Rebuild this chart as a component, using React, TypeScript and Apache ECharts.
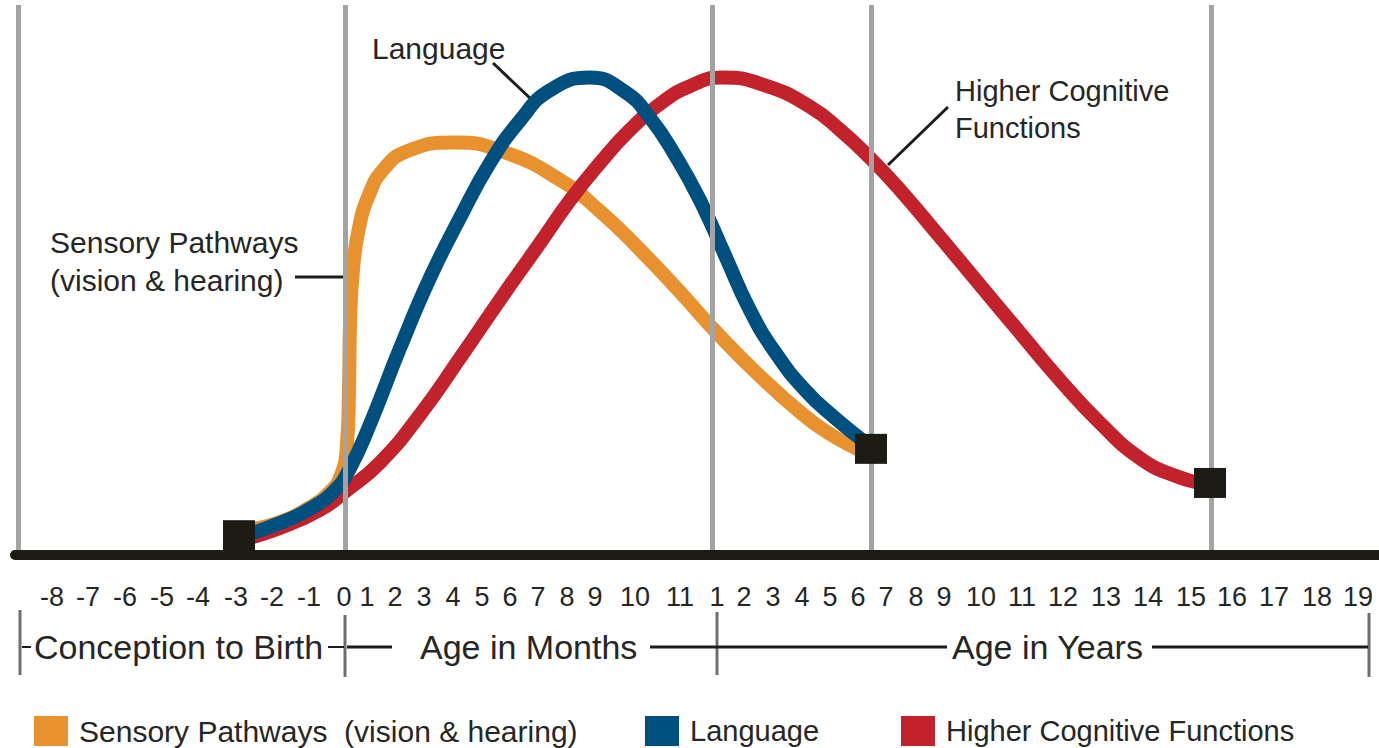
import React, { useEffect, useRef } from "react";
import * as echarts from "echarts";

// ---- axis ticks (position along the developmental time line, label shown) ----
const tickLabels = [
  "-8", "-7", "-6", "-5", "-4", "-3", "-2", "-1", "0",
  "1", "2", "3", "4", "5", "6", "7", "8", "9", "10", "11",
  "1", "2", "3", "4", "5", "6", "7", "8", "9", "10",
  "11", "12", "13", "14", "15", "16", "17", "18", "19",
];
const tickPos = [
  37, 73, 110, 147, 183, 221, 257, 294, 329,
  352, 380, 409, 438, 467, 495, 523, 552, 580, 620, 665,
  702, 729, 758, 787, 815, 843, 871, 901, 929, 966,
  1007, 1048, 1091, 1133, 1176, 1217, 1259, 1302, 1343,
];
// vertical reference lines (edge, birth, 1 year, ~6.5 years, ~15.5 years)
const guideLines = [3, 330, 697, 856, 1196];

// ---- series: [position, level] ----
const sensory = [
  [230, 4.4], [265, 6.0], [295, 8.7], [315, 11.5], [326, 14.5], [332, 20.0],
  [334, 30.0], [335, 42.0], [338, 52.0], [344, 59.5], [354, 65.5],
  [368, 70.0], [392, 73.4], [440, 75.0], [490, 73.2],
  [545, 68.2], [585, 62.5], [625, 55.5], [665, 47.8],
  [705, 39.8], [745, 32.5], [785, 26.0], [815, 22.0], [840, 19.5], [853, 18.5],
];
const language = [
  [230, 3.6], [265, 5.8], [295, 8.4], [320, 11.8], [335, 15.8], [355, 23.8],
  [385, 37.6], [415, 50.4], [445, 61.3], [475, 71.3], [505, 79.0],
  [535, 84.5], [575, 86.8], [610, 84.2], [635, 79.5], [660, 72.7],
  [685, 64.5], [710, 54.5], [735, 44.5], [760, 36.9], [790, 30.0],
  [820, 24.9], [850, 20.5],
];
const higher = [
  [230, 2.9], [265, 4.9], [305, 8.2], [330, 11.5], [365, 16.8], [405, 25.5],
  [445, 35.8], [485, 46.4], [525, 56.7], [555, 64.5], [585, 71.3],
  [615, 77.3], [645, 82.0], [672, 85.0], [707, 86.8], [750, 85.4],
  [795, 81.5], [825, 77.3], [855, 72.2], [885, 66.4],
  [925, 57.8], [965, 49.1], [1005, 40.4], [1045, 31.8], [1085, 24.0],
  [1125, 17.6], [1160, 14.4], [1190, 12.9],
];
const endpoints = [[224, 3.6], [856, 19.3], [1195, 13.1]];

const seriesNames = [
  "Sensory Pathways (vision & hearing)",
  "Language",
  "Higher Cognitive Functions",
];
const colors = ["#E8912F", "#00507F", "#C1222B"];

const FONT = '"Liberation Sans", Arial, Helvetica, sans-serif';
const INK = "#262626";

function txt(text: string, x: number, y: number, size: number) {
  return {
    type: "text",
    x,
    y,
    silent: true,
    style: {
      text,
      font: `${size}px ${FONT}`,
      fill: INK,
      verticalAlign: "middle",
      align: "left",
    },
  };
}
function ln(x1: number, y1: number, x2: number, y2: number, w: number, c = "#1c1c1c") {
  return {
    type: "line",
    silent: true,
    shape: { x1, y1, x2, y2 },
    style: { stroke: c, lineWidth: w },
  };
}

export default function App() {
  const ref = useRef<HTMLDivElement>(null);
  useEffect(() => {
    if (!ref.current) return;
    const chart = echarts.init(ref.current, null, { renderer: "svg" });
    const legendBase = {
      orient: "horizontal",
      top: 711,
      itemWidth: 34,
      itemHeight: 30,
      icon: "rect",
      selectedMode: false,
      textStyle: {
        fontSize: 30,
        color: INK,
        fontFamily: FONT,
        padding: [0, 0, 0, 6],
      },
    };
    const lineSeries = (name: string, data: number[][], color: string, z: number) => ({
      name,
      type: "line",
      data,
      smooth: 0.5,
      showSymbol: false,
      color,
      lineStyle: { width: 14, color },
      z,
    });
    chart.setOption({
      animation: false,
      backgroundColor: "#ffffff",
      grid: { left: 15, right: 0, top: 5, bottom: 193, containLabel: false, outerBoundsMode: "none" },
      legend: [
        { ...legendBase, left: 29, data: [seriesNames[0]], formatter: () => "Sensory Pathways  (vision & hearing)" },
        { ...legendBase, left: 640, data: [seriesNames[1]], textStyle: { ...legendBase.textStyle, fontSize: 29 } },
        { ...legendBase, left: 896, data: [seriesNames[2]], textStyle: { ...legendBase.textStyle, fontSize: 29 } },
      ],
      xAxis: {
        type: "value",
        min: 0,
        max: 1364,
        z: 10,
        splitLine: { show: false },
        axisTick: { show: false },
        axisLine: { show: true, lineStyle: { color: "#1c1b14", width: 10 } },
        axisLabel: {
          customValues: tickPos,
          formatter: (v: number) => {
            const i = tickPos.indexOf(v);
            return i >= 0 ? tickLabels[i] : "";
          },
          fontSize: 27,
          fontFamily: FONT,
          color: INK,
          margin: 28,
        },
      },
      yAxis: { type: "value", min: 0, max: 100, show: false },
      series: [
        {
          type: "line",
          data: [[0, 0]],
          showSymbol: false,
          lineStyle: { width: 0 },
          z: 1,
          silent: true,
          markLine: {
            silent: true,
            symbol: ["none", "none"],
            label: { show: false },
            lineStyle: { color: "#a3a3a3", width: 5, type: "solid" },
            data: guideLines.map((v) => ({ xAxis: v })),
          },
        },
        lineSeries(seriesNames[0], sensory, colors[0], 2),
        lineSeries(seriesNames[2], higher, colors[2], 3),
        lineSeries(seriesNames[1], language, colors[1], 4),
        {
          type: "scatter",
          data: endpoints,
          symbol: "rect",
          symbolSize: [32, 30],
          itemStyle: { color: "#1c1b14", opacity: 1 },
          z: 6,
          silent: true,
        },
      ],
      graphic: [
        // curve annotations
        txt("Sensory Pathways", 50, 242, 30),
        txt("(vision & hearing)", 50, 280, 30),
        ln(295, 277, 348, 277, 3),
        txt("Language", 372, 48, 30),
        ln(493, 63, 532, 100, 3),
        txt("Higher Cognitive", 955, 91, 29),
        txt("Functions", 955, 128, 29),
        ln(948, 107, 888, 165, 3),
        // period brackets
        ln(20, 610, 20, 675, 3, "#6e6e6e"),
        ln(345, 615, 345, 677, 3, "#6e6e6e"),
        ln(717, 612, 717, 675, 3, "#6e6e6e"),
        ln(1369, 613, 1369, 677, 3, "#6e6e6e"),
        ln(22, 647, 31, 647, 2),
        ln(328, 647, 344, 647, 2),
        ln(347, 647, 392, 647, 3),
        ln(650, 647, 947, 647, 3),
        ln(1152, 647, 1368, 647, 3),
        txt("Conception to Birth", 34, 647, 34),
        txt("Age in Months", 420, 647, 34),
        txt("Age in Years", 952, 647, 34),
      ],
    });
    return () => chart.dispose();
  }, []);
  return (
    <div
      ref={ref}
      style={{ position: "absolute", left: 0, top: 0, width: 1379, height: 748, background: "#fff" }}
    />
  );
}
